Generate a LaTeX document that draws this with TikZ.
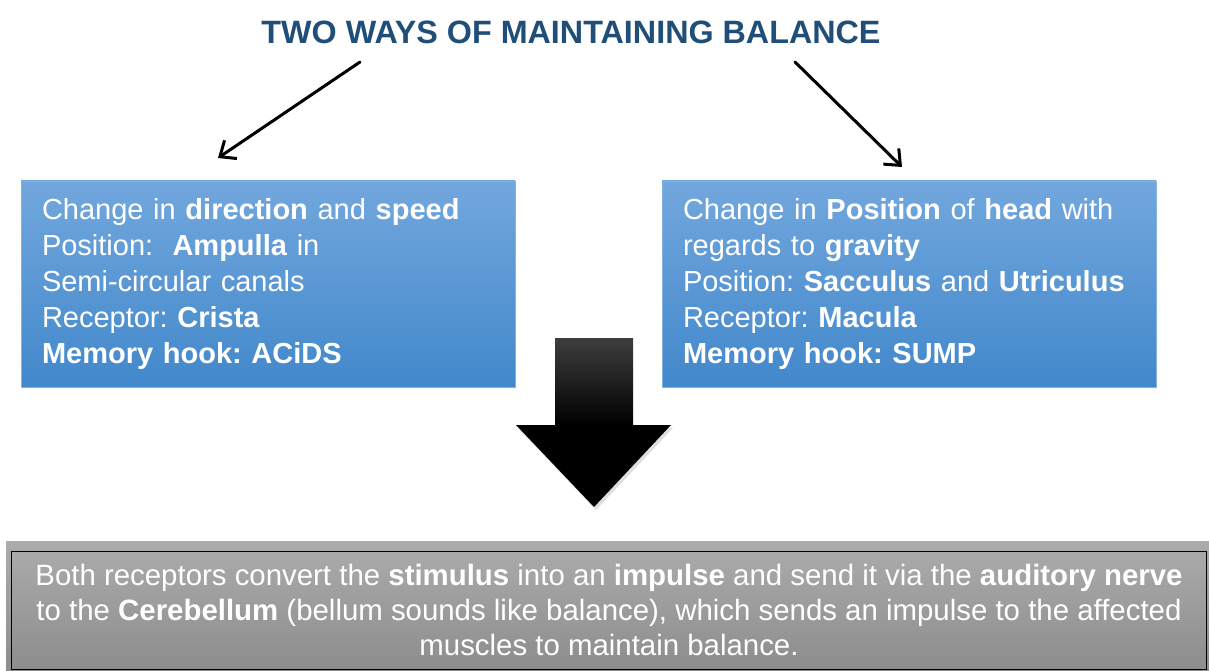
\documentclass[tikz,border=0pt]{standalone}
\usepackage{fontspec}
\setmainfont{Liberation Sans}
\usetikzlibrary{arrows.meta}

\definecolor{titleblue}{RGB}{31,78,121}
\definecolor{boxtop}{RGB}{114,167,221}
\definecolor{boxbottom}{RGB}{66,136,203}
\definecolor{boxline}{RGB}{130,178,225}
\definecolor{greytop}{RGB}{172,172,172}
\definecolor{greybottom}{RGB}{140,140,140}
\frenchspacing
\hyphenpenalty=10000\relax

\begin{document}
\begin{tikzpicture}[x = 1pt, y = -1pt]
\tikzstyle{titleStyle} = [font = \fontsize{32.3}{38}\selectfont\bfseries, text = titleblue]
\tikzstyle{boxStyle} = [shape = rectangle, draw = boxline, top color = boxtop, bottom color = boxbottom, minimum width = 494pt, minimum height = 206pt, text width = 452pt, inner xsep = 21pt, align = left, text = white, font = \fontsize{29}{36}\selectfont]
\tikzstyle{summaryStyle} = [align = center, text = white, font = \fontsize{29.4}{35}\selectfont]
\tikzstyle{linkStyle} = [line width = 3pt, line cap = round, -{Straight Barb[length = 13pt, width = 22pt]}]
\useasboundingbox (0,0) rectangle (1209,671);
\node[titleStyle] (title) at (571,32) {TWO WAYS OF MAINTAINING BALANCE};
\node[boxStyle] (direction) at (268,284) {Change in \textbf{direction} and \textbf{speed}\\Position:\ \ \textbf{Ampulla} in\\Semi-circular canals\\Receptor: \textbf{Crista}\\\textbf{Memory hook: ACiDS}};
\node[boxStyle] (gravity) at (909,284) {Change in \textbf{Position} of \textbf{head} with\\regards to \textbf{gravity}\\Position: \textbf{Sacculus} and \textbf{Utriculus}\\Receptor: \textbf{Macula}\\\textbf{Memory hook: SUMP}};
\coordinate (lstart) at (360,62);
\coordinate (lend) at (218,158);
\coordinate (rstart) at (795,62);
\coordinate (rend) at (902,167);
\draw[linkStyle] (lstart) -- (lend);
\draw[linkStyle] (rstart) -- (rend);
% big arrow
\fill[black!25, opacity = 0.5] (518,428) -- (673,428) -- (596,510) -- cycle;
\shade[top color = black!76, bottom color = black] (555,338) rectangle (633,426);
\fill[black] (516,425) -- (671,425) -- (594,507) -- cycle;
% summary
\shade[top color = greytop, bottom color = greybottom] (6,541) rectangle (1212,674);
\draw[black, line width = 1pt] (11.7,551.5) rectangle (1206,669);
\node[summaryStyle] (summary) at (609,610) {Both receptors convert the \textbf{stimulus} into an \textbf{impulse} and send it via the \textbf{auditory nerve}\\to the \textbf{Cerebellum} (bellum sounds like balance), which sends an impulse to the affected\\muscles to maintain balance.};
\end{tikzpicture}
\end{document}
